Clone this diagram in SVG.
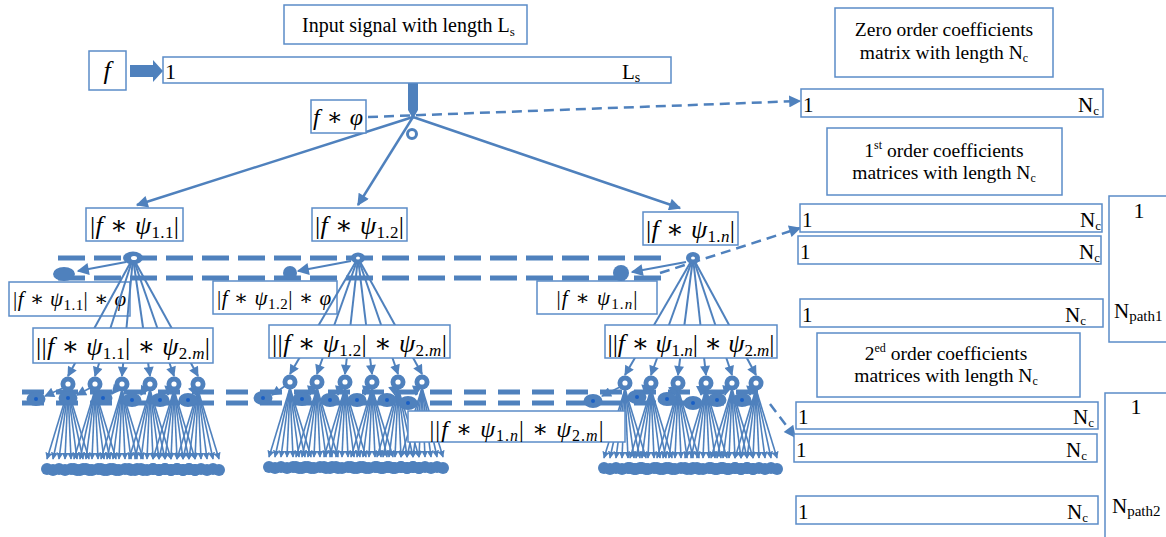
<svg xmlns="http://www.w3.org/2000/svg" width="1166" height="537" viewBox="0 0 1166 537">
<style>
.bx{fill:#fff;stroke:#5b8cc8;stroke-width:1.5}
.t{font-family:"Liberation Serif","Times New Roman",serif;fill:#000}
.m{font-family:"Liberation Serif","DejaVu Serif",serif;fill:#000}
.i{font-style:italic}
.ln{stroke:#4f81bd;stroke-width:2.5;fill:none}
.fl{stroke:#4f81bd;stroke-width:2;fill:none}
.ff{stroke:#4f81bd;stroke-width:1.6;fill:none}
.ds{stroke:#4f81bd;stroke-width:2.5;fill:none;stroke-dasharray:10 6}
.d1{stroke:#4f81bd;stroke-width:5;fill:none;stroke-dasharray:27 9}
.d2{stroke:#4f81bd;stroke-width:5;fill:none;stroke-dasharray:22 12}
.b{fill:#4f81bd}
.w{fill:#fff}
.c{fill:#1a5fc4}
</style>
<defs>
<marker id="a" viewBox="0 0 10 10" refX="9" refY="5" markerWidth="14" markerHeight="12" markerUnits="userSpaceOnUse" orient="auto"><path d="M0,0L10,5L0,10z" fill="#4f81bd"/></marker>
<marker id="a2" viewBox="0 0 10 10" refX="9" refY="5" markerWidth="11" markerHeight="10" markerUnits="userSpaceOnUse" orient="auto"><path d="M0,0L10,5L0,10z" fill="#4f81bd"/></marker>
<marker id="a3" viewBox="0 0 10 10" refX="9" refY="5" markerWidth="7" markerHeight="7" markerUnits="userSpaceOnUse" orient="auto"><path d="M0,0L10,5L0,10z" fill="#4f81bd"/></marker>
<g id="fan">
<line class="ff" x1="0" y1="6" x2="-21" y2="75" marker-end="url(#a3)"/>
<line class="ff" x1="0" y1="6" x2="-15" y2="75" marker-end="url(#a3)"/>
<line class="ff" x1="0" y1="6" x2="-9" y2="75" marker-end="url(#a3)"/>
<line class="ff" x1="0" y1="6" x2="-3" y2="75" marker-end="url(#a3)"/>
<line class="ff" x1="0" y1="6" x2="3" y2="75" marker-end="url(#a3)"/>
<line class="ff" x1="0" y1="6" x2="9" y2="75" marker-end="url(#a3)"/>
<line class="ff" x1="0" y1="6" x2="15" y2="75" marker-end="url(#a3)"/>
<line class="ff" x1="0" y1="6" x2="21" y2="75" marker-end="url(#a3)"/>
<circle class="b" cx="-21" cy="85" r="6"/><circle class="b" cx="-15" cy="86" r="6"/>
<circle class="b" cx="-9" cy="85" r="6"/><circle class="b" cx="-3" cy="86" r="6"/>
<circle class="b" cx="3" cy="85" r="6"/><circle class="b" cx="9" cy="86" r="6"/>
<circle class="b" cx="15" cy="85" r="6"/><circle class="b" cx="21" cy="86" r="6"/>
</g>
<g id="ring"><circle class="b" cx="0" cy="0" r="7.5"/><circle class="w" cx="0" cy="0" r="2.6"/></g>
<g id="blob"><ellipse class="b" cx="0" cy="0" rx="9.5" ry="7"/><circle class="c" cx="0" cy="0" r="2"/></g>
</defs>

<!-- boxes drawn under fan lines -->
<g id="n-f11phi"><rect class="bx" x="9" y="282" width="121" height="34"/>
<text class="m" x="13" y="306" font-size="21" textLength="113" lengthAdjust="spacing">|<tspan class="i">f</tspan> ∗ <tspan class="i">ψ</tspan><tspan font-size="15" dy="4">1.1</tspan><tspan dy="-4">| ∗ </tspan><tspan class="i">φ</tspan></text></g>
<g id="n-f12phi"><rect class="bx" x="213" y="281" width="124" height="33"/>
<text class="m" x="217" y="305" font-size="21" textLength="114" lengthAdjust="spacing">|<tspan class="i">f</tspan> ∗ <tspan class="i">ψ</tspan><tspan font-size="15" dy="4">1.2</tspan><tspan dy="-4">| ∗ </tspan><tspan class="i">φ</tspan></text></g>
<g id="n-f1nphi"><rect class="bx" x="537" y="281" width="120" height="33"/>
<text class="m" x="597" y="305" font-size="21" text-anchor="middle" textLength="81" lengthAdjust="spacing">|<tspan class="i">f</tspan> ∗ <tspan class="i">ψ</tspan><tspan font-size="15" dy="4">1.<tspan class="i">n</tspan></tspan><tspan dy="-4">|</tspan></text></g>

<g id="connectors">
<polygon class="b" points="130,65 153,65 153,60 163,71 153,82 153,77 130,77"/>
<polygon class="b" points="408,83 418,83 418,110 413,119 408,110"/>
<line class="ds" x1="368" y1="117" x2="800" y2="101" marker-end="url(#a)"/>
<line class="ln" x1="413" y1="117" x2="137" y2="205" marker-end="url(#a)"/>
<line class="ln" x1="413" y1="117" x2="358" y2="205" marker-end="url(#a)"/>
<line class="ln" x1="413" y1="117" x2="680" y2="208" marker-end="url(#a)"/>
<circle cx="412" cy="134" r="4.5" fill="#fff" stroke="#4f81bd" stroke-width="3"/>

<line class="d1" x1="58" y1="258" x2="663" y2="258"/>
<line class="d1" x1="58" y1="278" x2="663" y2="278"/>
<line class="ds" x1="660" y1="273" x2="800" y2="228" marker-end="url(#a)"/>

<line class="fl" x1="126" y1="262" x2="78" y2="271" marker-end="url(#a)"/>
<line class="fl" x1="351" y1="261" x2="298" y2="271" marker-end="url(#a)"/>
<line class="fl" x1="686" y1="262" x2="632" y2="272" marker-end="url(#a)"/>

<g id="fan1-left">
<line class="fl" x1="133" y1="258" x2="68" y2="376" marker-end="url(#a2)"/>
<line class="fl" x1="133" y1="258" x2="95" y2="376" marker-end="url(#a2)"/>
<line class="fl" x1="133" y1="258" x2="122" y2="376" marker-end="url(#a2)"/>
<line class="fl" x1="133" y1="258" x2="150" y2="376" marker-end="url(#a2)"/>
<line class="fl" x1="133" y1="258" x2="174" y2="376" marker-end="url(#a2)"/>
<line class="fl" x1="133" y1="258" x2="198" y2="376" marker-end="url(#a2)"/>
</g>
<g id="fan1-mid">
<line class="fl" x1="358" y1="258" x2="290" y2="374" marker-end="url(#a2)"/>
<line class="fl" x1="358" y1="258" x2="317" y2="374" marker-end="url(#a2)"/>
<line class="fl" x1="358" y1="258" x2="345" y2="374" marker-end="url(#a2)"/>
<line class="fl" x1="358" y1="258" x2="372" y2="374" marker-end="url(#a2)"/>
<line class="fl" x1="358" y1="258" x2="398" y2="374" marker-end="url(#a2)"/>
<line class="fl" x1="358" y1="258" x2="422" y2="374" marker-end="url(#a2)"/>
</g>
<g id="fan1-right">
<line class="fl" x1="693" y1="258" x2="625" y2="375" marker-end="url(#a2)"/>
<line class="fl" x1="693" y1="258" x2="651" y2="375" marker-end="url(#a2)"/>
<line class="fl" x1="693" y1="258" x2="678" y2="375" marker-end="url(#a2)"/>
<line class="fl" x1="693" y1="258" x2="706" y2="375" marker-end="url(#a2)"/>
<line class="fl" x1="693" y1="258" x2="732" y2="375" marker-end="url(#a2)"/>
<line class="fl" x1="693" y1="258" x2="756" y2="375" marker-end="url(#a2)"/>
</g>

<line class="d2" x1="22" y1="392" x2="768" y2="392"/>
<line class="d2" x1="22" y1="403" x2="768" y2="403"/>
<line class="ds" x1="770" y1="404" x2="795" y2="437" marker-end="url(#a)"/>

<g id="fans2">
<use href="#fan" x="68" y="384"/><use href="#fan" x="95" y="384"/><use href="#fan" x="122" y="384"/>
<use href="#fan" x="150" y="384"/><use href="#fan" x="174" y="384"/><use href="#fan" x="198" y="384"/>
<use href="#fan" x="290" y="382"/><use href="#fan" x="317" y="382"/><use href="#fan" x="345" y="382"/>
<use href="#fan" x="372" y="382"/><use href="#fan" x="398" y="382"/><use href="#fan" x="422" y="382"/>
<use href="#fan" x="625" y="383"/><use href="#fan" x="651" y="383"/><use href="#fan" x="678" y="383"/>
<use href="#fan" x="706" y="383"/><use href="#fan" x="732" y="383"/><use href="#fan" x="756" y="383"/>
</g>
<g id="phi2-arrows">
<line class="ff" x1="63" y1="388" x2="45" y2="396" marker-end="url(#a2)"/>
<line class="ff" x1="90" y1="388" x2="77" y2="395" marker-end="url(#a2)"/>
<line class="ff" x1="117" y1="388" x2="112" y2="394" marker-end="url(#a2)"/>
<line class="ff" x1="145" y1="388" x2="141" y2="395" marker-end="url(#a2)"/>
<line class="ff" x1="169" y1="388" x2="168" y2="395" marker-end="url(#a2)"/>
<line class="ff" x1="193" y1="388" x2="196" y2="395" marker-end="url(#a2)"/>
<line class="ff" x1="285" y1="386" x2="272" y2="395" marker-end="url(#a2)"/>
<line class="ff" x1="312" y1="386" x2="310" y2="395" marker-end="url(#a2)"/>
<line class="ff" x1="340" y1="386" x2="338" y2="395" marker-end="url(#a2)"/>
<line class="ff" x1="367" y1="386" x2="365" y2="395" marker-end="url(#a2)"/>
<line class="ff" x1="393" y1="386" x2="395" y2="395" marker-end="url(#a2)"/>
<line class="ff" x1="417" y1="386" x2="416" y2="395" marker-end="url(#a2)"/>
<line class="ff" x1="620" y1="387" x2="602" y2="396" marker-end="url(#a2)"/>
<line class="ff" x1="646" y1="387" x2="645" y2="394" marker-end="url(#a2)"/>
<line class="ff" x1="673" y1="387" x2="675" y2="395" marker-end="url(#a2)"/>
<line class="ff" x1="701" y1="387" x2="701" y2="395" marker-end="url(#a2)"/>
<line class="ff" x1="727" y1="387" x2="725" y2="395" marker-end="url(#a2)"/>
<line class="ff" x1="751" y1="387" x2="750" y2="395" marker-end="url(#a2)"/>
</g>
</g>

<!-- hubs and taps -->
<g id="hub-11"><ellipse class="b" cx="133" cy="258" rx="10" ry="6.5"/><ellipse class="w" cx="134" cy="258" rx="3" ry="2"/></g>
<g id="hub-12"><ellipse class="b" cx="358" cy="258" rx="7" ry="5.5"/><ellipse class="w" cx="358" cy="258" rx="2" ry="1.5"/></g>
<g id="hub-1n"><ellipse class="b" cx="693" cy="258" rx="7" ry="6"/><ellipse class="w" cx="693" cy="258" rx="2" ry="1.5"/></g>
<g id="tap-11"><ellipse class="b" cx="64" cy="274" rx="11" ry="7"/></g>
<g id="tap-12"><circle class="b" cx="290" cy="273" r="7"/></g>
<g id="tap-1n"><circle class="b" cx="621" cy="273" r="8"/></g>

<g id="rings2">
<use href="#ring" x="68" y="384"/><use href="#ring" x="95" y="384"/><use href="#ring" x="122" y="384"/>
<use href="#ring" x="150" y="384"/><use href="#ring" x="174" y="384"/><use href="#ring" x="198" y="384"/>
<use href="#ring" x="290" y="382"/><use href="#ring" x="317" y="382"/><use href="#ring" x="345" y="382"/>
<use href="#ring" x="372" y="382"/><use href="#ring" x="398" y="382"/><use href="#ring" x="422" y="382"/>
<use href="#ring" x="625" y="383"/><use href="#ring" x="651" y="383"/><use href="#ring" x="678" y="383"/>
<use href="#ring" x="706" y="383"/><use href="#ring" x="732" y="383"/><use href="#ring" x="756" y="383"/>
</g>
<g id="taps2">
<use href="#blob" x="36" y="399"/><use href="#blob" x="68" y="398"/><use href="#blob" x="103" y="398"/>
<use href="#blob" x="132" y="400"/><use href="#blob" x="160" y="400"/><use href="#blob" x="188" y="400"/>
<use href="#blob" x="263" y="398"/><use href="#blob" x="302" y="399"/><use href="#blob" x="330" y="400"/>
<use href="#blob" x="357" y="400"/><use href="#blob" x="387" y="400"/><use href="#blob" x="408" y="403"/>
<use href="#blob" x="593" y="401"/><use href="#blob" x="637" y="397"/><use href="#blob" x="667" y="399"/>
<use href="#blob" x="693" y="403"/><use href="#blob" x="717" y="400"/><use href="#blob" x="742" y="400"/>
</g>

<!-- nodes -->
<g id="n-title"><rect class="bx" x="284" y="5" width="243" height="39"/>
<text class="t" x="302" y="32" font-size="20">Input signal with length L<tspan font-size="13" dy="4">s</tspan></text></g>
<g id="n-f"><rect class="bx" x="89" y="51" width="37" height="39"/>
<text class="m i" x="107" y="79" font-size="26" text-anchor="middle">f</text></g>
<g id="n-input"><rect class="bx" x="163" y="57" width="508" height="26"/>
<text class="t" x="165" y="79" font-size="22">1</text>
<text class="t" x="622" y="79" font-size="21">L<tspan font-size="14" dy="3">s</tspan></text></g>
<g id="n-fphi"><rect class="bx" x="311" y="100" width="55" height="33"/>
<text class="m" x="338" y="125" font-size="24" text-anchor="middle" textLength="50" lengthAdjust="spacing"><tspan class="i">f</tspan> ∗ <tspan class="i">φ</tspan></text></g>

<g id="n-f11"><rect class="bx" x="86" y="208" width="97" height="33"/>
<text class="m" x="134.5" y="234" font-size="26" text-anchor="middle" textLength="89" lengthAdjust="spacing">|<tspan class="i">f</tspan> ∗ <tspan class="i">ψ</tspan><tspan font-size="17" dy="4">1.1</tspan><tspan dy="-4">|</tspan></text></g>
<g id="n-f12"><rect class="bx" x="312" y="208" width="95" height="33"/>
<text class="m" x="359.5" y="234" font-size="26" text-anchor="middle" textLength="89" lengthAdjust="spacing">|<tspan class="i">f</tspan> ∗ <tspan class="i">ψ</tspan><tspan font-size="17" dy="4">1.2</tspan><tspan dy="-4">|</tspan></text></g>
<g id="n-f1n"><rect class="bx" x="643" y="212" width="95" height="33"/>
<text class="m" x="690.5" y="238" font-size="26" text-anchor="middle" textLength="89" lengthAdjust="spacing">|<tspan class="i">f</tspan> ∗ <tspan class="i">ψ</tspan><tspan font-size="17" dy="4">1.<tspan class="i">n</tspan></tspan><tspan dy="-4">|</tspan></text></g>

<g id="n-f11m"><rect class="bx" x="33" y="328" width="180" height="35"/>
<text class="m" x="123" y="355" font-size="26" text-anchor="middle" textLength="174" lengthAdjust="spacing">||<tspan class="i">f</tspan> ∗ <tspan class="i">ψ</tspan><tspan font-size="17" dy="4">1.1</tspan><tspan dy="-4">| ∗ </tspan><tspan class="i">ψ</tspan><tspan font-size="17" dy="4">2.<tspan class="i">m</tspan></tspan><tspan dy="-4">|</tspan></text></g>
<g id="n-f12m"><rect class="bx" x="269" y="325" width="181" height="33"/>
<text class="m" x="359.5" y="352" font-size="26" text-anchor="middle" textLength="175" lengthAdjust="spacing">||<tspan class="i">f</tspan> ∗ <tspan class="i">ψ</tspan><tspan font-size="17" dy="4">1.2</tspan><tspan dy="-4">| ∗ </tspan><tspan class="i">ψ</tspan><tspan font-size="17" dy="4">2.<tspan class="i">m</tspan></tspan><tspan dy="-4">|</tspan></text></g>
<g id="n-f1nm"><rect class="bx" x="605" y="325" width="172" height="33"/>
<text class="m" x="691" y="352" font-size="26" text-anchor="middle" textLength="167" lengthAdjust="spacing">||<tspan class="i">f</tspan> ∗ <tspan class="i">ψ</tspan><tspan font-size="17" dy="4">1.<tspan class="i">n</tspan></tspan><tspan dy="-4">| ∗ </tspan><tspan class="i">ψ</tspan><tspan font-size="17" dy="4">2.<tspan class="i">m</tspan></tspan><tspan dy="-4">|</tspan></text></g>
<g id="n-f1nm-b"><rect class="bx" x="408" y="411" width="217" height="31"/>
<text class="m" x="516.5" y="437" font-size="24" text-anchor="middle" textLength="174" lengthAdjust="spacing">||<tspan class="i">f</tspan> ∗ <tspan class="i">ψ</tspan><tspan font-size="16" dy="4">1.<tspan class="i">n</tspan></tspan><tspan dy="-4">| ∗ </tspan><tspan class="i">ψ</tspan><tspan font-size="16" dy="4">2.<tspan class="i">m</tspan></tspan><tspan dy="-4">|</tspan></text></g>

<!-- right panel -->
<g id="n-zero"><rect class="bx" x="835" y="8" width="218" height="69"/>
<text class="t" x="944" y="36" font-size="19.5" text-anchor="middle">Zero order coefficients</text>
<text class="t" x="944" y="59" font-size="19.5" text-anchor="middle">matrix with length N<tspan font-size="12" dy="3">c</tspan></text></g>
<g id="n-zero-bar"><rect class="bx" x="801" y="89" width="302" height="28"/>
<text class="t" x="803" y="112" font-size="21">1</text>
<text class="t" x="1099" y="112" font-size="21" text-anchor="end">N<tspan font-size="13" dy="3">c</tspan></text></g>

<g id="n-first"><rect class="bx" x="827" y="128" width="235" height="67"/>
<text class="t" x="944" y="157" font-size="19.5" text-anchor="middle">1<tspan font-size="12" dy="-8">st</tspan><tspan dy="8"> order coefficients</tspan></text>
<text class="t" x="944" y="179" font-size="19.5" text-anchor="middle">matrices with length N<tspan font-size="12" dy="3">c</tspan></text></g>
<g id="n-first-bar1"><rect class="bx" x="800" y="204" width="302" height="28"/>
<text class="t" x="802" y="227" font-size="21">1</text>
<text class="t" x="1101" y="227" font-size="21" text-anchor="end">N<tspan font-size="13" dy="3">c</tspan></text></g>
<g id="n-first-bar2"><rect class="bx" x="798" y="236" width="303" height="28"/>
<text class="t" x="800" y="259" font-size="21">1</text>
<text class="t" x="1100" y="259" font-size="21" text-anchor="end">N<tspan font-size="13" dy="3">c</tspan></text></g>
<g id="n-first-bar3"><rect class="bx" x="800" y="299" width="303" height="28"/>
<text class="t" x="802" y="322" font-size="21">1</text>
<text class="t" x="1086" y="322" font-size="21" text-anchor="end">N<tspan font-size="13" dy="3">c</tspan></text></g>
<g id="n-npath1"><rect class="bx" x="1109" y="196" width="60" height="146"/>
<text class="t" x="1139" y="218" font-size="22" text-anchor="middle">1</text>
<text class="t" x="1114" y="318" font-size="21">N<tspan font-size="15" dy="3">path1</tspan></text></g>

<g id="n-second"><rect class="bx" x="817" y="333" width="263" height="64"/>
<text class="t" x="946" y="360" font-size="19.5" text-anchor="middle">2<tspan font-size="12" dy="-8">ed</tspan><tspan dy="8"> order coefficients</tspan></text>
<text class="t" x="946" y="382" font-size="19.5" text-anchor="middle">matrices with length N<tspan font-size="12" dy="3">c</tspan></text></g>
<g id="n-second-bar1"><rect class="bx" x="796" y="402" width="302" height="27"/>
<text class="t" x="798" y="424" font-size="21">1</text>
<text class="t" x="1094" y="424" font-size="21" text-anchor="end">N<tspan font-size="13" dy="3">c</tspan></text></g>
<g id="n-second-bar2"><rect class="bx" x="794" y="434" width="303" height="28"/>
<text class="t" x="796" y="457" font-size="21">1</text>
<text class="t" x="1087" y="457" font-size="21" text-anchor="end">N<tspan font-size="13" dy="3">c</tspan></text></g>
<g id="n-second-bar3"><rect class="bx" x="796" y="496" width="302" height="28"/>
<text class="t" x="798" y="519" font-size="21">1</text>
<text class="t" x="1088" y="519" font-size="21" text-anchor="end">N<tspan font-size="13" dy="3">c</tspan></text></g>
<g id="n-npath2"><rect class="bx" x="1105" y="393" width="64" height="150"/>
<text class="t" x="1136" y="414" font-size="22" text-anchor="middle">1</text>
<text class="t" x="1112" y="513" font-size="21">N<tspan font-size="15" dy="3">path2</tspan></text></g>
</svg>
